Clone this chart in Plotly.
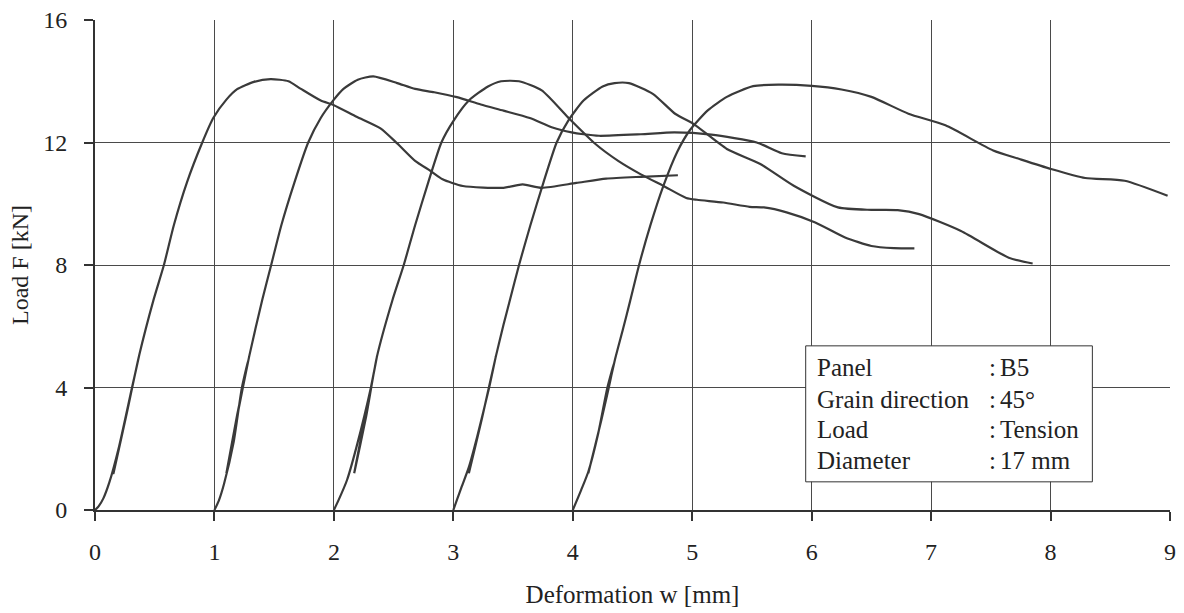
import plotly.graph_objects as go

# ---- data (deformation w [mm], load F [kN]) ----
w1 = [0.00, 0.03, 0.07, 0.12, 0.20, 0.31, 0.37, 0.26, 0.155, 0.26, 0.37, 0.49, 0.577, 0.66, 0.77, 0.898, 0.99, 1.10,
      1.19, 1.33, 1.47, 1.62, 1.72, 1.89, 2.00, 2.19, 2.39, 2.53, 2.68, 2.81, 2.91, 3.08, 3.42, 3.58, 3.74,
      4.03, 4.28, 4.57, 4.88]
F1 = [0.00, 0.12, 0.38, 0.90, 2.05, 4.00, 5.05, 3.10, 1.20, 3.05, 5.05, 6.86, 8.00, 9.30, 10.70, 12.00, 12.80, 13.40,
      13.74, 13.98, 14.07, 14.00, 13.76, 13.37, 13.22, 12.84, 12.46, 11.97, 11.40, 11.07, 10.80, 10.58, 10.52, 10.63, 10.52,
      10.68, 10.82, 10.88, 10.93]

w2 = [1.00, 1.036, 1.08, 1.16, 1.23, 1.29, 1.19, 1.10, 1.19, 1.29, 1.40, 1.475, 1.56, 1.67, 1.785, 1.89, 1.99, 2.08,
      2.20, 2.33, 2.53, 2.68, 2.84, 3.03, 3.23, 3.42, 3.64, 3.83, 3.99, 4.09, 4.22, 4.57, 4.85, 5.16, 5.54,
      5.75, 5.95]
F2 = [0.00, 0.30, 0.85, 2.20, 4.00, 5.00, 3.10, 1.20, 3.05, 5.00, 6.86, 8.00, 9.30, 10.70, 12.00, 12.80, 13.35, 13.75,
      14.05, 14.16, 13.94, 13.75, 13.64, 13.48, 13.24, 13.04, 12.80, 12.49, 12.33, 12.27, 12.22, 12.27, 12.33, 12.26, 12.00,
      11.65, 11.55]

w3 = [2.00, 2.04, 2.11, 2.19, 2.31, 2.36, 2.27, 2.17, 2.27, 2.36, 2.49, 2.585, 2.68, 2.79, 2.90, 3.00, 3.13, 3.29,
      3.40, 3.55, 3.74, 3.96, 4.19, 4.38, 4.57, 4.76, 4.95, 5.04, 5.26, 5.48, 5.60, 5.79, 6.03, 6.28, 6.50,
      6.69, 6.86]
F3 = [0.00, 0.33, 0.98, 2.07, 4.00, 5.00, 3.20, 1.20, 3.05, 5.00, 6.85, 8.00, 9.30, 10.70, 12.00, 12.70, 13.37, 13.83,
      14.00, 14.00, 13.70, 12.82, 11.95, 11.40, 10.96, 10.58, 10.19, 10.13, 10.04, 9.90, 9.88, 9.72, 9.39, 8.90, 8.62,
      8.55, 8.54]

w4 = [3.00, 3.03, 3.07, 3.13, 3.20, 3.30, 3.355, 3.24, 3.13, 3.24, 3.355, 3.42, 3.47, 3.55, 3.645, 3.755, 3.865, 3.96,
      4.09, 4.25, 4.35, 4.47, 4.67, 4.86, 5.01, 5.29, 5.57, 5.85, 6.22, 6.50, 6.72, 6.90, 7.25, 7.65, 7.85]
F4 = [0.00, 0.33, 0.76, 1.40, 2.40, 4.00, 5.00, 3.00, 1.20, 3.00, 5.00, 6.05, 6.80, 8.00, 9.30, 10.70, 12.00, 12.70,
      13.37, 13.83, 13.94, 13.94, 13.59, 12.93, 12.61, 11.79, 11.30, 10.59, 9.88, 9.80, 9.79, 9.66, 9.11, 8.24, 8.05]

w5 = [4.00, 4.07, 4.13, 4.21, 4.29, 4.35, 4.24, 4.13, 4.24, 4.35, 4.42, 4.48, 4.555, 4.65, 4.76, 4.875, 4.98, 5.13,
      5.29, 5.51, 5.72, 6.00, 6.25, 6.50, 6.81, 7.12, 7.52, 7.74, 8.00, 8.29, 8.62, 8.98]
F5 = [0.00, 0.65, 1.25, 2.45, 4.00, 4.86, 2.95, 1.20, 2.95, 4.86, 5.90, 6.82, 8.00, 9.30, 10.60, 11.70, 12.40, 13.05,
      13.49, 13.84, 13.89, 13.85, 13.73, 13.49, 12.94, 12.56, 11.74, 11.46, 11.14, 10.84, 10.75, 10.26]

series = [(w1, F1), (w2, F2), (w3, F3), (w4, F4), (w5, F5)]

info_labels = ["Panel", "Grain direction", "Load", "Diameter"]
info_values = ["B5", "45°", "Tension", "17 mm"]

x_ticks = [0, 1, 2, 3, 4, 5, 6, 7, 8, 9]
y_ticks = [0, 4, 8, 12, 16]

FONT = "Liberation Serif, Times New Roman, serif"
LINE = "#3a3a3a"
GRID = "#4a4a4a"

fig = go.Figure()
for w, F in series:
    fig.add_trace(go.Scatter(x=w, y=F, mode="lines",
                             line=dict(color=LINE, width=2.2, shape="spline", smoothing=0.6),
                             showlegend=False, hoverinfo="x+y"))

# info box
fig.add_shape(type="rect", xref="x", yref="y", x0=5.95, x1=8.35, y0=0.92, y1=5.36,
              line=dict(color="#333333", width=1), fillcolor="white", layer="above")
row_y = [4.64, 3.62, 2.64, 1.63]
for lab, val, yy in zip(info_labels, info_values, row_y):
    fig.add_annotation(x=6.03, y=yy, xref="x", yref="y", text=lab, showarrow=False,
                       xanchor="left", yanchor="middle", font=dict(family=FONT, size=25, color="#222"))
    fig.add_annotation(x=7.47, y=yy, xref="x", yref="y", text=":", showarrow=False,
                       xanchor="left", yanchor="middle", font=dict(family=FONT, size=25, color="#222"))
    fig.add_annotation(x=7.56, y=yy, xref="x", yref="y", text=val, showarrow=False,
                       xanchor="left", yanchor="middle", font=dict(family=FONT, size=25, color="#222"))

fig.update_layout(
    width=1184, height=613,
    margin=dict(l=95, r=14, t=20, b=103, autoexpand=False),
    paper_bgcolor="white", plot_bgcolor="white",
    font=dict(family=FONT, size=24, color="#222"),
    xaxis=dict(range=[0, 9], tickvals=x_ticks, showgrid=True, gridcolor=GRID, gridwidth=1,
               showline=True, linecolor="#333", linewidth=2, ticks="outside", ticklen=9,
               tickcolor="#333", tickwidth=1.5, zeroline=False, ticklabelstandoff=10,
               automargin=False,
               tickfont=dict(family=FONT, size=24, color="#222"),
               title=dict(text="Deformation w [mm]", font=dict(family=FONT, size=25, color="#222"), standoff=22)),
    yaxis=dict(range=[0, 16], tickvals=y_ticks, showgrid=True, gridcolor=GRID, gridwidth=1,
               showline=True, linecolor="#333", linewidth=2, ticks="outside", ticklen=9,
               tickcolor="#333", tickwidth=1.5, zeroline=False, ticklabelstandoff=12,
               automargin=False,
               tickfont=dict(family=FONT, size=24, color="#222"),
               title=dict(text="Load F [kN]", font=dict(family=FONT, size=24, color="#222"), standoff=8)),
)

fig.write_html("out.html")
